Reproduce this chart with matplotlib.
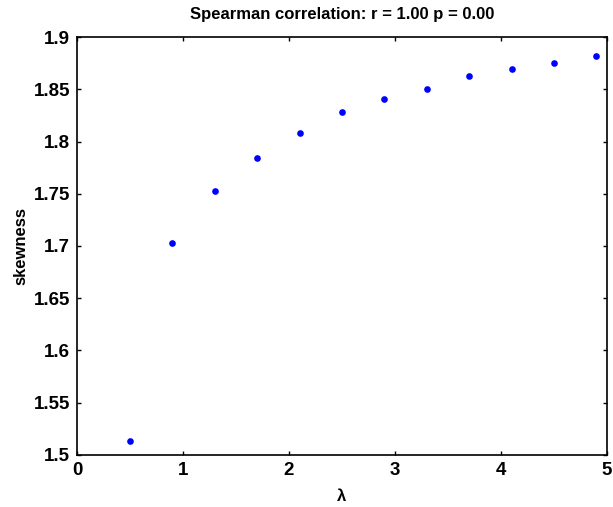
import matplotlib
matplotlib.use('Agg')
import matplotlib.pyplot as plt

# lambda values and the skewness measured at each
lam = [0.5, 0.9, 1.3, 1.7, 2.1, 2.5, 2.9, 3.3, 3.7, 4.1, 4.5, 4.9]
skew = [1.513, 1.703, 1.753, 1.784, 1.808, 1.828, 1.841, 1.850, 1.863, 1.869, 1.875, 1.882]

xticks = [0, 1, 2, 3, 4, 5]
yticks = [1.5, 1.55, 1.6, 1.65, 1.7, 1.75, 1.8, 1.85, 1.9]
ylabels = ['1.5', '1.55', '1.6', '1.65', '1.7', '1.75', '1.8', '1.85', '1.9']

plt.rcParams['font.family'] = ['Liberation Sans', 'DejaVu Sans']
plt.rcParams['font.weight'] = 'bold'

fig = plt.figure(figsize=(6.13, 5.07), dpi=100)
ax = fig.add_axes([0.1256, 0.1026, 0.8646, 0.8244])

ax.plot(lam, skew, 'o', color='#0000ff', markersize=4.8, markeredgewidth=0)

ax.set_xlim(0, 5)
ax.set_ylim(1.5, 1.9)
ax.set_xticks(xticks)
ax.set_xticklabels([str(t) for t in xticks])
ax.set_yticks(yticks)
ax.set_yticklabels(ylabels)
ax.tick_params(direction='in', length=3, width=1, top=True, right=True,
               labelsize=13.5, pad=5)
for s in ax.spines.values():
    s.set_linewidth(1.2)

ax.set_title('Spearman correlation: r = 1.00 p = 0.00', fontsize=12, fontweight='bold', pad=13)
ax.set_xlabel('λ', fontsize=12, fontweight='bold', labelpad=7)
ax.set_ylabel('skewness', fontsize=12, fontweight='bold', labelpad=4)

fig.savefig('out.png', dpi=100)
